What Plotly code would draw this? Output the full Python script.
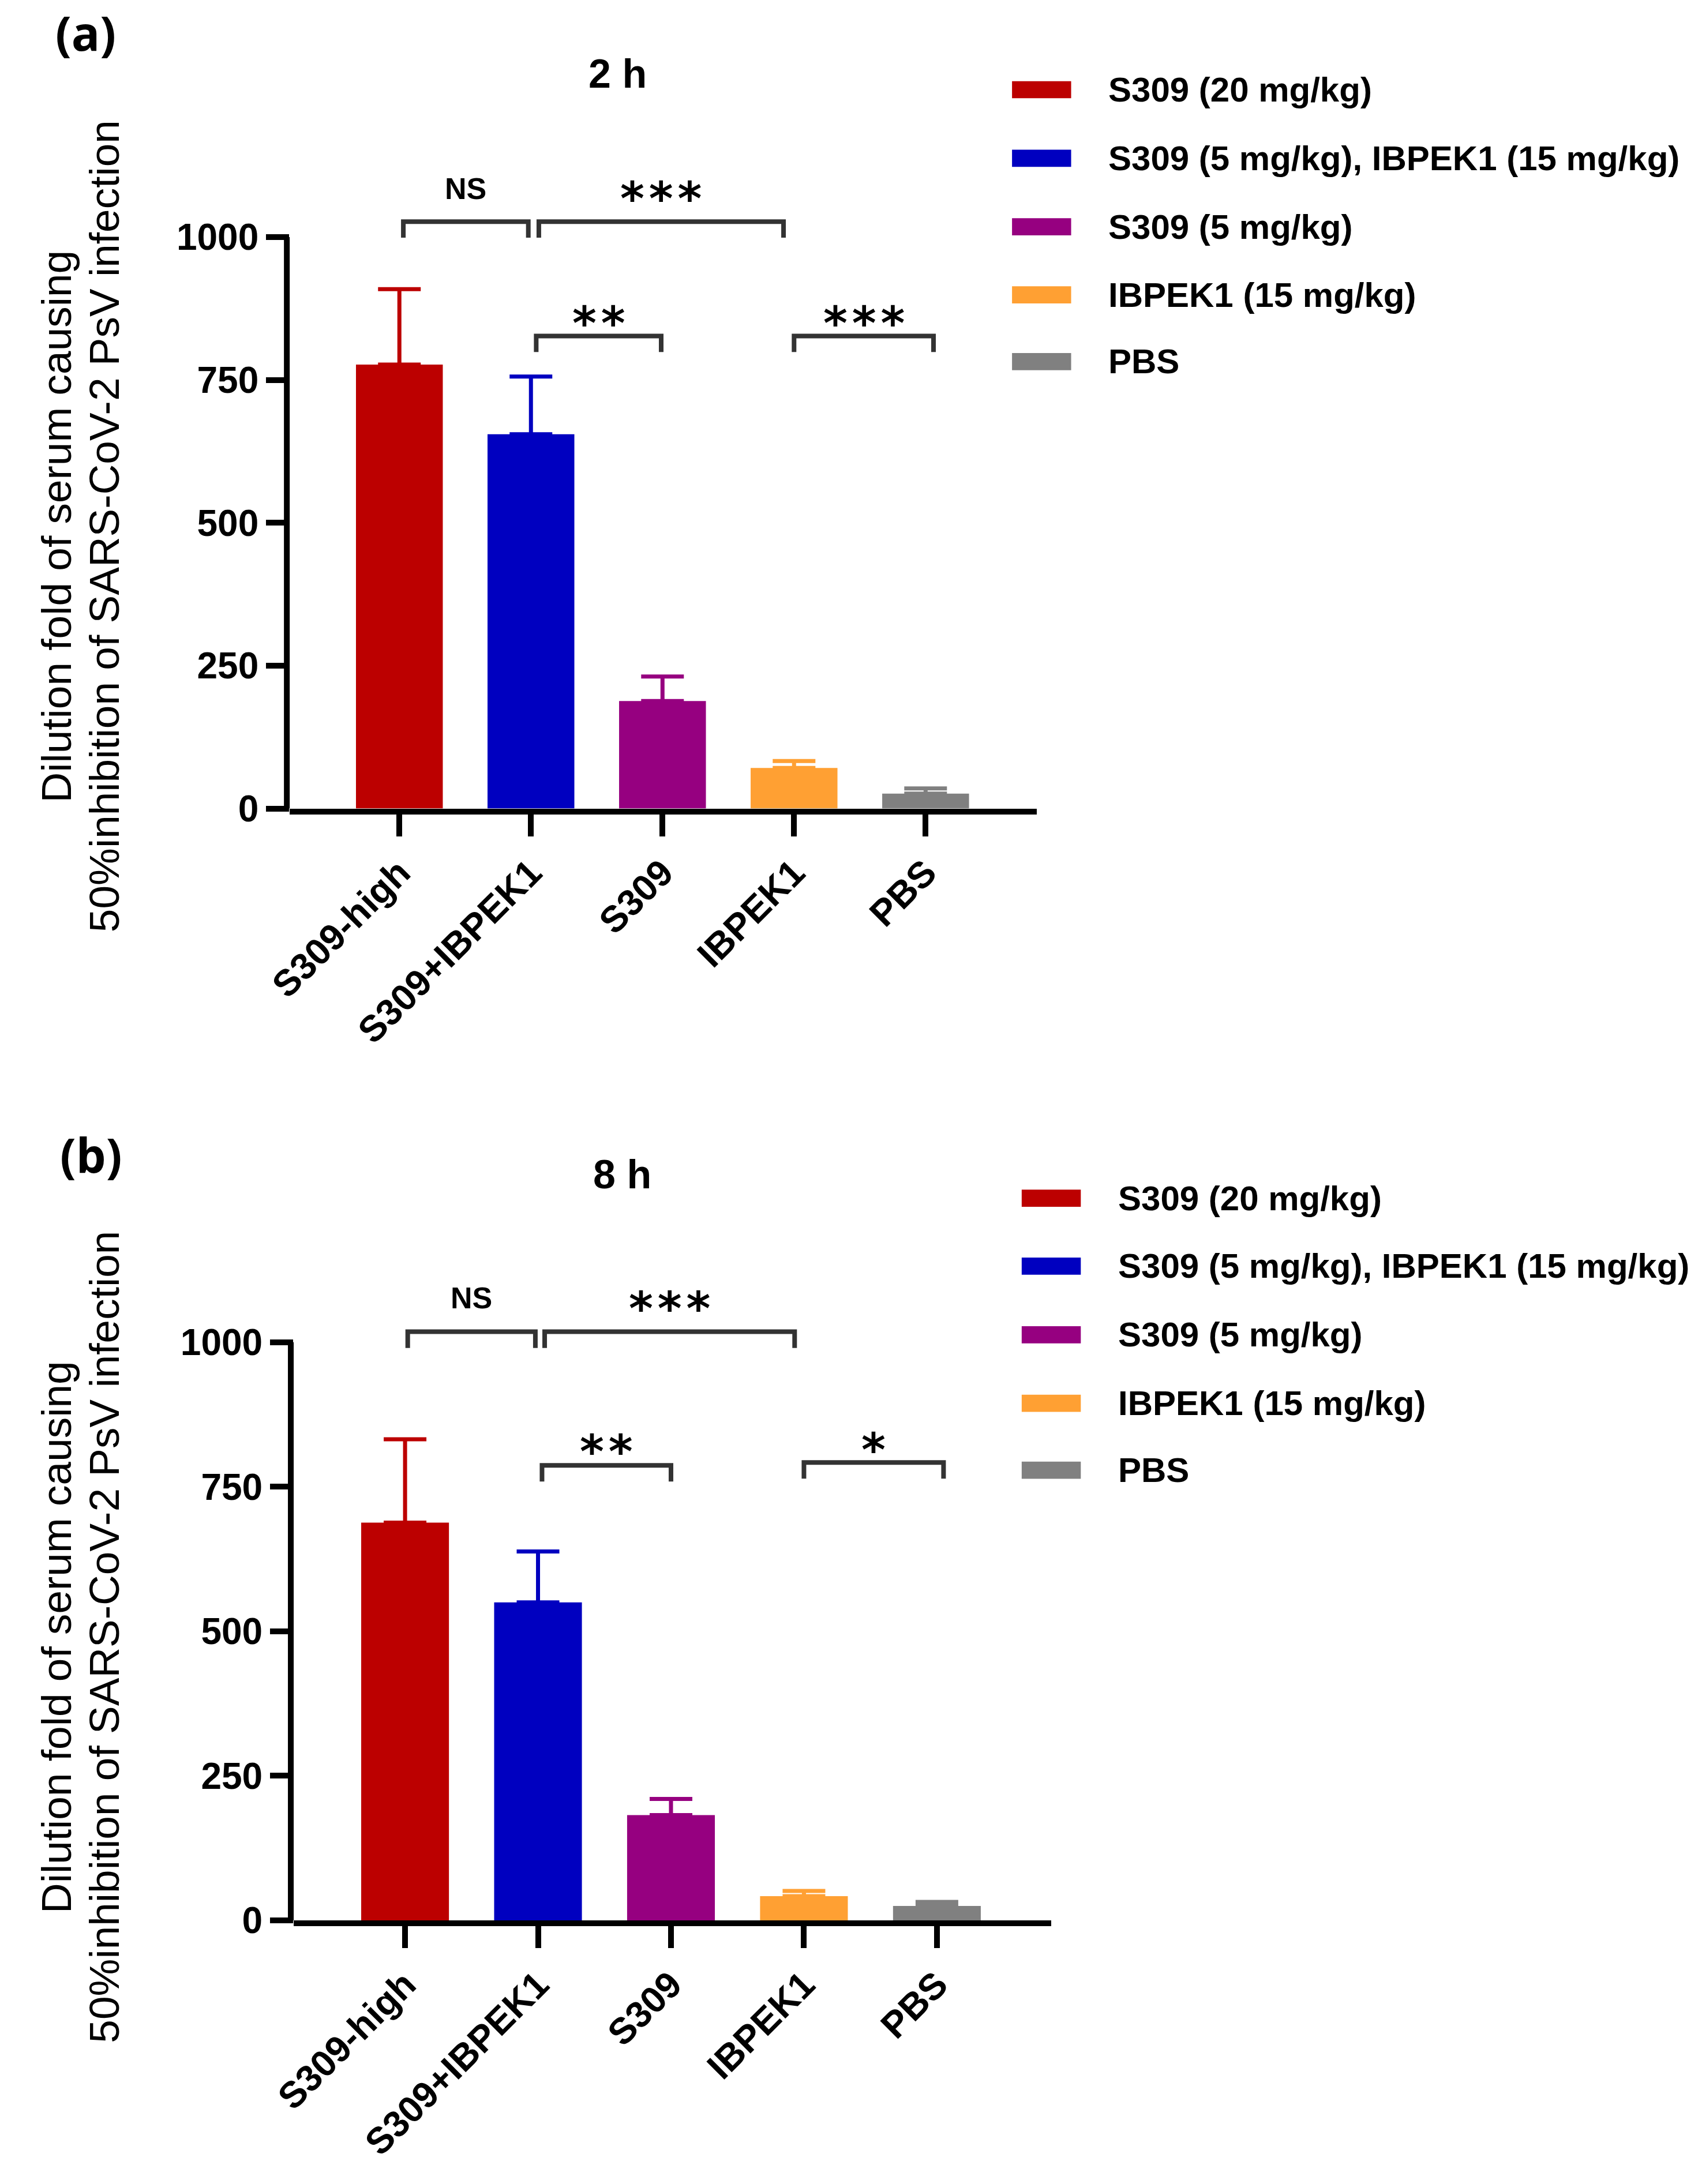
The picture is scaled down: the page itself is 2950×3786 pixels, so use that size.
import plotly.graph_objects as go

W, H = 2950, 3786

categories = ["S309-high", "S309+IBPEK1", "S309", "IBPEK1", "PBS"]
legend_labels = ["S309 (20 mg/kg)", "S309 (5 mg/kg), IBPEK1 (15 mg/kg)",
                 "S309 (5 mg/kg)", "IBPEK1 (15 mg/kg)", "PBS"]
colors = ["#BC0000", "#0000C0", "#960080", "#FFA033", "#808080"]
yticks = [0, 250, 500, 750, 1000]

# panel (a) 2 h: mean and upper error
mean_2h = [777, 655, 188, 71, 26]
err_2h = [132, 101, 43, 12, 9]
# panel (b) 8 h
mean_8h = [688, 550, 182, 42, 25]
err_8h = [144, 88, 28, 9, 7]

# significance brackets: (x_start, x_end, height, label, label_offset)
brackets_2h = [(0.03, 0.98, 1027, "NS", 58), (1.06, 2.92, 1027, "***", 40),
               (1.04, 1.99, 827, "**", 22), (3.0, 4.06, 827, "***", 22)]
brackets_8h = [(0.02, 0.98, 1018, "NS", 58), (1.05, 2.93, 1018, "***", 40),
               (1.03, 2.0, 787, "**", 24), (3.0, 4.05, 792, "*", 22)]

FONT = "Liberation Sans, Arial, sans-serif"

panels = [
    dict(xa="x", ya="y", xdom=[465 / W, 1780 / W], ydom=[1 - 1415 / H, 1 - 315 / H],
         xr=[-0.834, 4.847], mean=mean_2h, err=err_2h, br=brackets_2h,
         title="2 h", tpos=(1042, 129), tag="(a)", tagpos=(106, 57),
         ytitle_x=(54, 138), ytitle_y=921,
         leg_sw=(1736, 1840), leg_tx=1903, leg_y=[157, 277, 397, 516, 633]),
    dict(xa="x2", ya="y2", xdom=[472 / W, 1805 / W], ydom=[1 - 3361 / H, 1 - 2247.8 / H],
         xr=[-0.838, 4.86], mean=mean_8h, err=err_8h, br=brackets_8h,
         title="8 h", tpos=(1050, 2056), tag="(b)", tagpos=(115, 2020),
         ytitle_x=(55, 139), ytitle_y=2865,
         leg_sw=(1753, 1857), leg_tx=1921, leg_y=[2097, 2216, 2336, 2456, 2573]),
]

fig = go.Figure()
shapes = []
annotations = []

for p in panels:
    for i, cat in enumerate(categories):
        fig.add_trace(go.Bar(
            x=[cat], y=[p["mean"][i]], width=0.66,
            marker=dict(color=colors[i], line=dict(width=0)),
            error_y=dict(type="data", symmetric=False, array=[p["err"][i]], arrayminus=[0],
                         color=colors[i], thickness=7, width=37),
            xaxis=p["xa"], yaxis=p["ya"], showlegend=False,
        ))
    # y axis line spanning 0..1000 only
    xl = p["xdom"][0] - 5 / W
    shapes.append(dict(type="line", xref="paper", yref=p["ya"], x0=xl, x1=xl, y0=-10, y1=1000,
                       line=dict(color="black", width=10)))
    # significance brackets
    for (x0, x1, yb, lab, off) in p["br"]:
        leg = yb - 28
        shapes.append(dict(type="path", xref=p["xa"], yref=p["ya"],
                           path=f"M {x0},{leg} L {x0},{yb} L {x1},{yb} L {x1},{leg}",
                           line=dict(color="#333333", width=8)))
        xm = (x0 + x1) / 2
        if lab == "NS":
            annotations.append(dict(xref=p["xa"], yref=p["ya"], x=xm, y=yb + off, text="<b>NS</b>",
                                    showarrow=False, xanchor="center", yanchor="middle",
                                    font=dict(family="Liberation Sans Narrow, Arial Narrow, Liberation Sans",
                                              size=52, color="black")))
        else:
            annotations.append(dict(xref=p["xa"], yref=p["ya"], x=xm, y=yb + off,
                                    text="<b>" + "\u200a".join(lab) + "</b>",
                                    showarrow=False, xanchor="center", yanchor="middle",
                                    font=dict(family="DejaVu Sans", size=80, color="black")))
    # title and panel tag
    annotations.append(dict(xref="paper", yref="paper", x=p["tpos"][0] / W, y=1 - p["tpos"][1] / H,
                            text="<b>" + p["title"] + "</b>", showarrow=False,
                            xanchor="center", yanchor="middle",
                            font=dict(family=FONT, size=70, color="black")))
    annotations.append(dict(xref="paper", yref="paper", x=p["tagpos"][0] / W, y=1 - p["tagpos"][1] / H,
                            text="<b>" + p["tag"] + "</b>", showarrow=False,
                            xanchor="center", yanchor="middle",
                            font=dict(family="Open Sans, Noto Sans, sans-serif", size=82, color="black")))
    # y-axis title (two lines)
    for line_text, xx in zip(["Dilution fold of serum causing",
                              "50%inhibition of SARS-CoV-2 PsV infection"], p["ytitle_x"]):
        annotations.append(dict(xref="paper", yref="paper", x=xx / W, y=1 - p["ytitle_y"] / H,
                                text=line_text, textangle=-90, showarrow=False,
                                xanchor="center", yanchor="middle",
                                font=dict(family=FONT, size=73, color="black")))
    # legend
    for i, lab in enumerate(legend_labels):
        c = p["leg_y"][i]
        shapes.append(dict(type="rect", xref="paper", yref="paper",
                           x0=p["leg_sw"][0] / W, x1=p["leg_sw"][1] / W,
                           y0=1 - (c + 15) / H, y1=1 - (c - 15) / H,
                           fillcolor=colors[i], line=dict(width=0)))
        annotations.append(dict(xref="paper", yref="paper", x=p["leg_tx"] / W, y=1 - c / H,
                                text="<b>" + lab + "</b>", showarrow=False,
                                xanchor="left", yanchor="middle",
                                font=dict(family=FONT, size=60, color="black")))

axis_common_x = dict(type="category", categoryorder="array", categoryarray=categories,
                     showline=True, linecolor="black", linewidth=10, ticks="outside",
                     ticklen=38, tickwidth=10, tickcolor="black", tickangle=-45,
                     showgrid=False, zeroline=False, fixedrange=True,
                     tickfont=dict(family=FONT, size=64, color="black", weight="bold"))
axis_common_y = dict(range=[0, 1100], tickvals=yticks, ticktext=[str(v) for v in yticks],
                     showline=False, ticks="outside", ticklen=40, tickwidth=10,
                     tickcolor="black", showgrid=False, zeroline=False,
                     tickfont=dict(family=FONT, size=64, color="black", weight="bold"))

fig.update_layout(
    width=W, height=H, margin=dict(l=0, r=0, t=0, b=0),
    paper_bgcolor="white", plot_bgcolor="white", barmode="overlay",
    showlegend=False,
    xaxis=dict(domain=panels[0]["xdom"], range=panels[0]["xr"], anchor="y", **axis_common_x),
    yaxis=dict(domain=panels[0]["ydom"], anchor="x", **axis_common_y),
    xaxis2=dict(domain=panels[1]["xdom"], range=panels[1]["xr"], anchor="y2", **axis_common_x),
    yaxis2=dict(domain=panels[1]["ydom"], anchor="x2", **axis_common_y),
    shapes=shapes, annotations=annotations,
    font=dict(family=FONT, color="black"),
)

fig.write_html("out.html", config={"displayModeBar": False},
               post_script="document.body.style.margin='0';document.body.style.overflow='hidden';")
